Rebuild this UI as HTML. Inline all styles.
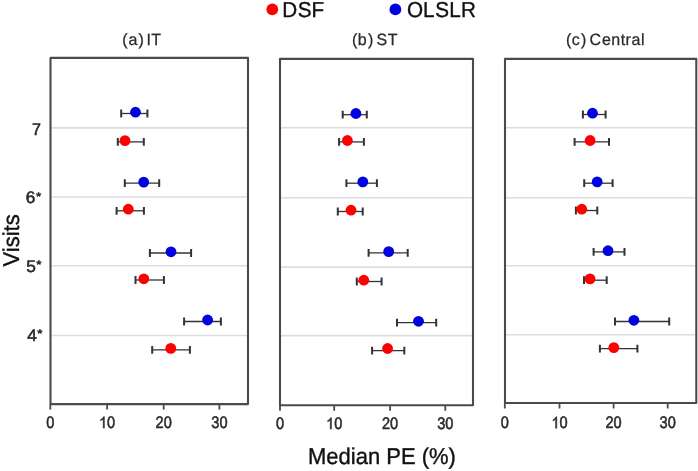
<!DOCTYPE html><html><head><meta charset="utf-8"><style>
html,body{margin:0;padding:0;background:#fff;width:698px;height:471px;overflow:hidden}
svg{display:block;font-family:"Liberation Sans",sans-serif;text-rendering:geometricPrecision;filter:blur(0.35px)} text{stroke-width:0.35px} .tk text{stroke-width:0.55px}
</style></head><body>
<svg width="698" height="471" viewBox="0 0 698 471">
<rect width="698" height="471" fill="#fff"/>
<circle cx="272.3" cy="9.3" r="5.9" fill="#ff0000"/>
<text transform="translate(0,17.00) scale(1,1.04)" x="282.20 297.86 311.60" font-size="20.7" fill="#111111" stroke="#111111" style="stroke-width:0.35px">DSF</text>
<circle cx="395.4" cy="9.4" r="5.9" fill="#0202de"/>
<text transform="translate(0,17.00) scale(1,1.04)" x="406.92 423.10 435.26 449.20 461.00" font-size="20.7" fill="#111111" stroke="#111111" style="stroke-width:0.35px">OLSLR</text>
<line x1="51.5" x2="247.0" y1="127.9" y2="127.9" stroke="#dddddd" stroke-width="1.6"/>
<line x1="51.5" x2="247.0" y1="197.0" y2="197.0" stroke="#dddddd" stroke-width="1.6"/>
<line x1="51.5" x2="247.0" y1="265.8" y2="265.8" stroke="#dddddd" stroke-width="1.6"/>
<line x1="51.5" x2="247.0" y1="335.5" y2="335.5" stroke="#dddddd" stroke-width="1.6"/>
<line x1="50.3" x2="50.3" y1="404.1" y2="409.60" stroke="#4a4a4a" stroke-width="1.8"/>
<line x1="107.1" x2="107.1" y1="404.1" y2="409.60" stroke="#4a4a4a" stroke-width="1.8"/>
<line x1="163.7" x2="163.7" y1="404.1" y2="409.60" stroke="#4a4a4a" stroke-width="1.8"/>
<line x1="219.4" x2="219.4" y1="404.1" y2="409.60" stroke="#4a4a4a" stroke-width="1.8"/>
<g transform="translate(50.30,428.10) scale(0.91,1)" class="tk">
<text transform="translate(0.00,0.00) scale(1,1.04)" font-size="16" text-anchor="middle" fill="#2a2a2a" stroke="#2a2a2a">0</text>
</g>
<g transform="translate(107.10,428.10) scale(0.91,1)" class="tk">
<path d="M-2.94 0.00 L-4.35 0.00 L-4.35 -8.96 Q-4.85 -8.48 -5.67 -7.99 Q-6.49 -7.51 -7.16 -7.27 L-7.16 -8.62 Q-6.03 -9.16 -5.17 -9.91 Q-4.32 -10.67 -3.97 -11.45 L-2.94 -11.45Z" fill="#2a2a2a" stroke="#2a2a2a" stroke-width="0.5"/>
<text transform="translate(0.00,0.00) scale(1,1.04)" font-size="16" fill="#2a2a2a" stroke="#2a2a2a">0</text>
</g>
<g transform="translate(163.70,428.10) scale(0.91,1)" class="tk">
<text transform="translate(0.00,0.00) scale(1,1.04)" font-size="16" text-anchor="middle" fill="#2a2a2a" stroke="#2a2a2a">20</text>
</g>
<g transform="translate(219.40,428.10) scale(0.91,1)" class="tk">
<text transform="translate(0.00,0.00) scale(1,1.04)" font-size="16" text-anchor="middle" fill="#2a2a2a" stroke="#2a2a2a">30</text>
</g>
<rect x="50.5" y="57.9" width="197.5" height="346.2" fill="none" stroke="#4a4a4a" stroke-width="2.1" stroke-linejoin="round"/>
<text transform="translate(0,45.10) scale(1,1.02)" x="122.31 128.42 138.51 146.52 151.14" font-size="16" fill="#2a2a2a" stroke="#2a2a2a" style="stroke-width:0.25px">(a)IT</text>
<path d="M121.2 113.5H147.4" stroke="#333333" stroke-width="1.3" fill="none"/>
<path d="M121.2 109.60V117.40M147.4 109.60V117.40" stroke="#333333" stroke-width="2" fill="none"/>
<circle cx="135.5" cy="112.2" r="5.4" fill="#0202de"/>
<path d="M117.8 141.9H143.8" stroke="#333333" stroke-width="1.3" fill="none"/>
<path d="M117.8 138.00V145.80M143.8 138.00V145.80" stroke="#333333" stroke-width="2" fill="none"/>
<circle cx="125.0" cy="140.6" r="5.4" fill="#ff0000"/>
<path d="M124.8 183.1H159.2" stroke="#333333" stroke-width="1.3" fill="none"/>
<path d="M124.8 179.20V187.00M159.2 179.20V187.00" stroke="#333333" stroke-width="2" fill="none"/>
<circle cx="143.7" cy="182.1" r="5.4" fill="#0202de"/>
<path d="M116.6 210.8H143.9" stroke="#333333" stroke-width="1.3" fill="none"/>
<path d="M116.6 206.90V214.70M143.9 206.90V214.70" stroke="#333333" stroke-width="2" fill="none"/>
<circle cx="128.3" cy="209.2" r="5.4" fill="#ff0000"/>
<path d="M149.9 253.0H191.1" stroke="#333333" stroke-width="1.3" fill="none"/>
<path d="M149.9 249.10V256.90M191.1 249.10V256.90" stroke="#333333" stroke-width="2" fill="none"/>
<circle cx="171.0" cy="251.8" r="5.4" fill="#0202de"/>
<path d="M135.5 280.0H163.9" stroke="#333333" stroke-width="1.3" fill="none"/>
<path d="M135.5 276.10V283.90M163.9 276.10V283.90" stroke="#333333" stroke-width="2" fill="none"/>
<circle cx="143.8" cy="278.8" r="5.4" fill="#ff0000"/>
<path d="M184.1 321.5H220.9" stroke="#333333" stroke-width="1.3" fill="none"/>
<path d="M184.1 317.60V325.40M220.9 317.60V325.40" stroke="#333333" stroke-width="2" fill="none"/>
<circle cx="207.6" cy="320.0" r="5.4" fill="#0202de"/>
<path d="M152.2 349.8H189.9" stroke="#333333" stroke-width="1.3" fill="none"/>
<path d="M152.2 345.90V353.70M189.9 345.90V353.70" stroke="#333333" stroke-width="2" fill="none"/>
<circle cx="170.8" cy="348.4" r="5.4" fill="#ff0000"/>
<line x1="281.0" x2="472.0" y1="127.7" y2="127.7" stroke="#dddddd" stroke-width="1.6"/>
<line x1="281.0" x2="472.0" y1="197.7" y2="197.7" stroke="#dddddd" stroke-width="1.6"/>
<line x1="281.0" x2="472.0" y1="267.1" y2="267.1" stroke="#dddddd" stroke-width="1.6"/>
<line x1="281.0" x2="472.0" y1="335.6" y2="335.6" stroke="#dddddd" stroke-width="1.6"/>
<line x1="280.0" x2="280.0" y1="405.3" y2="410.80" stroke="#4a4a4a" stroke-width="1.8"/>
<line x1="334.2" x2="334.2" y1="405.3" y2="410.80" stroke="#4a4a4a" stroke-width="1.8"/>
<line x1="390.1" x2="390.1" y1="405.3" y2="410.80" stroke="#4a4a4a" stroke-width="1.8"/>
<line x1="445.3" x2="445.3" y1="405.3" y2="410.80" stroke="#4a4a4a" stroke-width="1.8"/>
<g transform="translate(280.00,429.10) scale(0.91,1)" class="tk">
<text transform="translate(0.00,0.00) scale(1,1.04)" font-size="16" text-anchor="middle" fill="#2a2a2a" stroke="#2a2a2a">0</text>
</g>
<g transform="translate(334.20,429.10) scale(0.91,1)" class="tk">
<path d="M-2.94 0.00 L-4.35 0.00 L-4.35 -8.96 Q-4.85 -8.48 -5.67 -7.99 Q-6.49 -7.51 -7.16 -7.27 L-7.16 -8.62 Q-6.03 -9.16 -5.17 -9.91 Q-4.32 -10.67 -3.97 -11.45 L-2.94 -11.45Z" fill="#2a2a2a" stroke="#2a2a2a" stroke-width="0.5"/>
<text transform="translate(0.00,0.00) scale(1,1.04)" font-size="16" fill="#2a2a2a" stroke="#2a2a2a">0</text>
</g>
<g transform="translate(390.10,429.10) scale(0.91,1)" class="tk">
<text transform="translate(0.00,0.00) scale(1,1.04)" font-size="16" text-anchor="middle" fill="#2a2a2a" stroke="#2a2a2a">20</text>
</g>
<g transform="translate(445.30,429.10) scale(0.91,1)" class="tk">
<text transform="translate(0.00,0.00) scale(1,1.04)" font-size="16" text-anchor="middle" fill="#2a2a2a" stroke="#2a2a2a">30</text>
</g>
<rect x="280.0" y="58.9" width="193.0" height="346.4" fill="none" stroke="#4a4a4a" stroke-width="2.1" stroke-linejoin="round"/>
<text transform="translate(0,45.10) scale(1,1.02)" x="351.91 357.67 368.01 376.47 387.64" font-size="16" fill="#2a2a2a" stroke="#2a2a2a" style="stroke-width:0.25px">(b)ST</text>
<path d="M342.7 114.7H366.8" stroke="#333333" stroke-width="1.3" fill="none"/>
<path d="M342.7 110.80V118.60M366.8 110.80V118.60" stroke="#333333" stroke-width="2" fill="none"/>
<circle cx="355.9" cy="113.5" r="5.4" fill="#0202de"/>
<path d="M339.1 141.9H363.9" stroke="#333333" stroke-width="1.3" fill="none"/>
<path d="M339.1 138.00V145.80M363.9 138.00V145.80" stroke="#333333" stroke-width="2" fill="none"/>
<circle cx="347.4" cy="140.5" r="5.4" fill="#ff0000"/>
<path d="M346.4 183.2H376.9" stroke="#333333" stroke-width="1.3" fill="none"/>
<path d="M346.4 179.30V187.10M376.9 179.30V187.10" stroke="#333333" stroke-width="2" fill="none"/>
<circle cx="362.8" cy="181.9" r="5.4" fill="#0202de"/>
<path d="M337.8 211.5H362.7" stroke="#333333" stroke-width="1.3" fill="none"/>
<path d="M337.8 207.60V215.40M362.7 207.60V215.40" stroke="#333333" stroke-width="2" fill="none"/>
<circle cx="351.0" cy="210.2" r="5.4" fill="#ff0000"/>
<path d="M368.6 252.8H407.7" stroke="#333333" stroke-width="1.3" fill="none"/>
<path d="M368.6 248.90V256.70M407.7 248.90V256.70" stroke="#333333" stroke-width="2" fill="none"/>
<circle cx="388.7" cy="251.6" r="5.4" fill="#0202de"/>
<path d="M356.8 281.5H381.6" stroke="#333333" stroke-width="1.3" fill="none"/>
<path d="M356.8 277.60V285.40M381.6 277.60V285.40" stroke="#333333" stroke-width="2" fill="none"/>
<circle cx="363.8" cy="280.2" r="5.4" fill="#ff0000"/>
<path d="M397.0 322.7H436.2" stroke="#333333" stroke-width="1.3" fill="none"/>
<path d="M397.0 318.80V326.60M436.2 318.80V326.60" stroke="#333333" stroke-width="2" fill="none"/>
<circle cx="418.5" cy="321.3" r="5.4" fill="#0202de"/>
<path d="M372.1 350.6H404.3" stroke="#333333" stroke-width="1.3" fill="none"/>
<path d="M372.1 346.70V354.50M404.3 346.70V354.50" stroke="#333333" stroke-width="2" fill="none"/>
<circle cx="387.6" cy="348.5" r="5.4" fill="#ff0000"/>
<line x1="506.0" x2="695.3" y1="127.7" y2="127.7" stroke="#dddddd" stroke-width="1.6"/>
<line x1="506.0" x2="695.3" y1="197.7" y2="197.7" stroke="#dddddd" stroke-width="1.6"/>
<line x1="506.0" x2="695.3" y1="265.8" y2="265.8" stroke="#dddddd" stroke-width="1.6"/>
<line x1="506.0" x2="695.3" y1="334.7" y2="334.7" stroke="#dddddd" stroke-width="1.6"/>
<line x1="504.8" x2="504.8" y1="403.0" y2="408.50" stroke="#4a4a4a" stroke-width="1.8"/>
<line x1="559.5" x2="559.5" y1="403.0" y2="408.50" stroke="#4a4a4a" stroke-width="1.8"/>
<line x1="613.6" x2="613.6" y1="403.0" y2="408.50" stroke="#4a4a4a" stroke-width="1.8"/>
<line x1="667.7" x2="667.7" y1="403.0" y2="408.50" stroke="#4a4a4a" stroke-width="1.8"/>
<g transform="translate(504.80,428.30) scale(0.91,1)" class="tk">
<text transform="translate(0.00,0.00) scale(1,1.04)" font-size="16" text-anchor="middle" fill="#2a2a2a" stroke="#2a2a2a">0</text>
</g>
<g transform="translate(559.50,428.30) scale(0.91,1)" class="tk">
<path d="M-2.94 0.00 L-4.35 0.00 L-4.35 -8.96 Q-4.85 -8.48 -5.67 -7.99 Q-6.49 -7.51 -7.16 -7.27 L-7.16 -8.62 Q-6.03 -9.16 -5.17 -9.91 Q-4.32 -10.67 -3.97 -11.45 L-2.94 -11.45Z" fill="#2a2a2a" stroke="#2a2a2a" stroke-width="0.5"/>
<text transform="translate(0.00,0.00) scale(1,1.04)" font-size="16" fill="#2a2a2a" stroke="#2a2a2a">0</text>
</g>
<g transform="translate(613.60,428.30) scale(0.91,1)" class="tk">
<text transform="translate(0.00,0.00) scale(1,1.04)" font-size="16" text-anchor="middle" fill="#2a2a2a" stroke="#2a2a2a">20</text>
</g>
<g transform="translate(667.70,428.30) scale(0.91,1)" class="tk">
<text transform="translate(0.00,0.00) scale(1,1.04)" font-size="16" text-anchor="middle" fill="#2a2a2a" stroke="#2a2a2a">30</text>
</g>
<rect x="505.0" y="58.9" width="191.3" height="344.1" fill="none" stroke="#4a4a4a" stroke-width="2.1" stroke-linejoin="round"/>
<text transform="translate(0,45.10) scale(1,1.02)" x="566.11 571.82 581.01 589.59 602.02 611.14 620.76 625.54 631.52 641.02" font-size="16" fill="#2a2a2a" stroke="#2a2a2a" style="stroke-width:0.25px">(c)Central</text>
<path d="M582.9 114.5H605.6" stroke="#333333" stroke-width="1.3" fill="none"/>
<path d="M582.9 110.60V118.40M605.6 110.60V118.40" stroke="#333333" stroke-width="2" fill="none"/>
<circle cx="592.5" cy="113.2" r="5.4" fill="#0202de"/>
<path d="M574.6 141.9H609.0" stroke="#333333" stroke-width="1.3" fill="none"/>
<path d="M574.6 138.00V145.80M609.0 138.00V145.80" stroke="#333333" stroke-width="2" fill="none"/>
<circle cx="590.1" cy="140.5" r="5.4" fill="#ff0000"/>
<path d="M584.2 183.2H612.6" stroke="#333333" stroke-width="1.3" fill="none"/>
<path d="M584.2 179.30V187.10M612.6 179.30V187.10" stroke="#333333" stroke-width="2" fill="none"/>
<circle cx="597.2" cy="181.9" r="5.4" fill="#0202de"/>
<path d="M575.9 210.5H597.3" stroke="#333333" stroke-width="1.3" fill="none"/>
<path d="M575.9 206.60V214.40M597.3 206.60V214.40" stroke="#333333" stroke-width="2" fill="none"/>
<circle cx="581.8" cy="209.2" r="5.4" fill="#ff0000"/>
<path d="M593.6 251.9H624.5" stroke="#333333" stroke-width="1.3" fill="none"/>
<path d="M593.6 248.00V255.80M624.5 248.00V255.80" stroke="#333333" stroke-width="2" fill="none"/>
<circle cx="608.0" cy="250.7" r="5.4" fill="#0202de"/>
<path d="M584.0 280.2H606.7" stroke="#333333" stroke-width="1.3" fill="none"/>
<path d="M584.0 276.30V284.10M606.7 276.30V284.10" stroke="#333333" stroke-width="2" fill="none"/>
<circle cx="590.0" cy="278.9" r="5.4" fill="#ff0000"/>
<path d="M615.0 321.5H669.2" stroke="#333333" stroke-width="1.3" fill="none"/>
<path d="M615.0 317.60V325.40M669.2 317.60V325.40" stroke="#333333" stroke-width="2" fill="none"/>
<circle cx="633.9" cy="320.3" r="5.4" fill="#0202de"/>
<path d="M599.9 348.7H637.4" stroke="#333333" stroke-width="1.3" fill="none"/>
<path d="M599.9 344.80V352.60M637.4 344.80V352.60" stroke="#333333" stroke-width="2" fill="none"/>
<circle cx="613.8" cy="347.6" r="5.4" fill="#ff0000"/>
<g class="tk">
<text transform="translate(31.90,134.90) scale(1,1.04)" font-size="16" fill="#2a2a2a" stroke="#2a2a2a">7</text>
<g transform="translate(26.40,0) scale(1.08,1) translate(-0.7,0)"><text transform="translate(0.00,203.30) scale(1,1.04)" font-size="16" fill="#2a2a2a" stroke="#2a2a2a">6</text></g>
<g transform="translate(36.20,192.70) scale(1.12,0.86)"><text transform="translate(-0.19,8.59) scale(1,1.04)" font-size="12.0" fill="#2a2a2a" stroke="#2a2a2a">*</text></g>
<g transform="translate(27.00,0) scale(1.08,1) translate(-0.7,0)"><text transform="translate(0.00,271.90) scale(1,1.04)" font-size="16" fill="#2a2a2a" stroke="#2a2a2a">5</text></g>
<g transform="translate(36.40,260.90) scale(1.12,0.86)"><text transform="translate(-0.19,8.59) scale(1,1.04)" font-size="12.0" fill="#2a2a2a" stroke="#2a2a2a">*</text></g>
<g transform="translate(28.00,0) scale(1.08,1) translate(-0.7,0)"><text transform="translate(0.00,340.50) scale(1,1.04)" font-size="16" fill="#2a2a2a" stroke="#2a2a2a">4</text></g>
<g transform="translate(37.40,329.50) scale(1.12,0.86)"><text transform="translate(-0.19,8.59) scale(1,1.04)" font-size="12.0" fill="#2a2a2a" stroke="#2a2a2a">*</text></g>
</g>
<text transform="translate(18.50,266.50) rotate(-90) scale(1,1.04)" font-size="22" fill="#111111" stroke="#111111">Visits</text>
<text transform="translate(308.00,463.50) scale(1,1.04)" font-size="22" fill="#111111" stroke="#111111">Median PE (%)</text>
</svg></body></html>
